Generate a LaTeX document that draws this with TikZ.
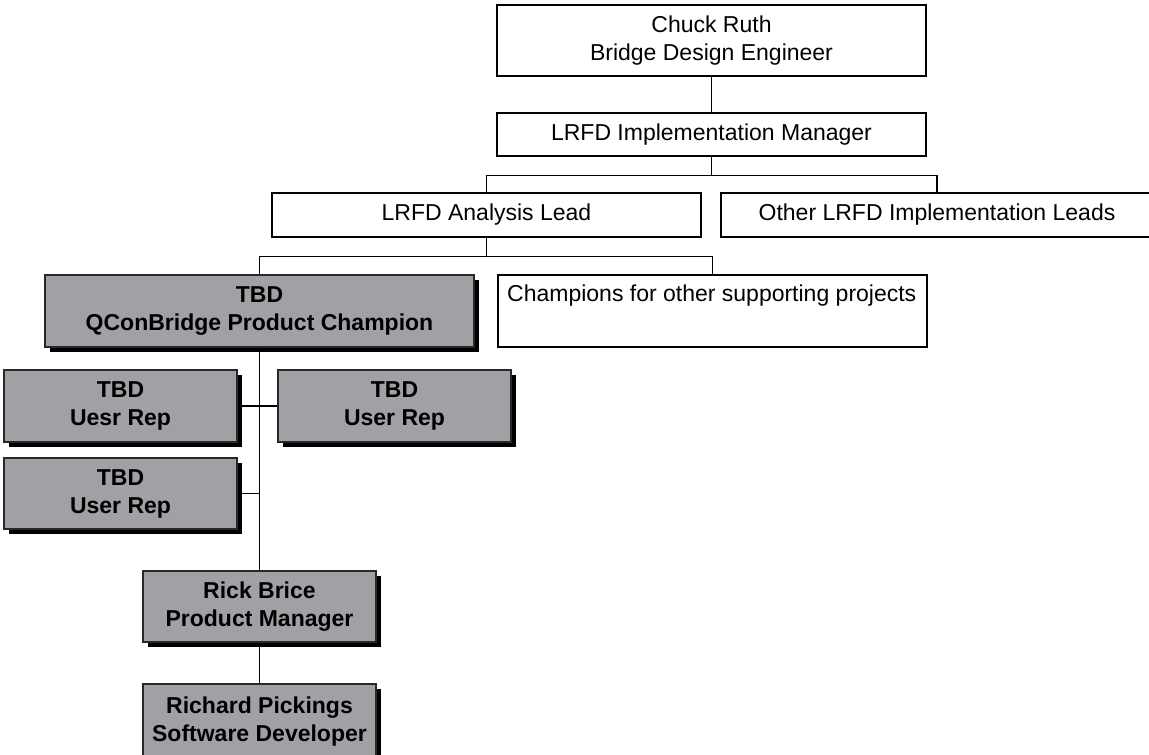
\documentclass[tikz,border=0pt]{standalone}
\usepackage{fontspec}
\setmainfont{Liberation Sans}
\usetikzlibrary{shadows}
\definecolor{boxgray}{RGB}{161,161,165}
\definecolor{boxedge}{RGB}{40,40,40}
\tikzset{
  plainbox/.style={draw=black,line width=1.3pt,fill=white,inner sep=0pt,align=center,
    font=\fontsize{23}{28}\selectfont},
  champbox/.style={draw=boxedge,line width=1.5pt,fill=boxgray,inner sep=0pt,align=center,
    text=black,font=\fontsize{23}{28}\selectfont\bfseries,
    drop shadow={shadow xshift=4.5pt,shadow yshift=-4.5pt,fill=black,opacity=1}},
  link/.style={line width=1.5pt}
}
\begin{document}
\begin{tikzpicture}[line cap=butt,line join=miter,x=1pt,y=-1pt]
				\clip (0,0) rectangle (1149,755);
				\fill[white] (0,0) rectangle (1149,755);
				% upper levels
				\node[plainbox,minimum width=429pt,minimum height=71pt] (chuck) at (711.5,40.5) {Chuck Ruth\\Bridge Design Engineer};
				\node[plainbox,minimum width=429pt,minimum height=43pt] (mgr) at (711.5,134.5) {LRFD Implementation Manager};
				\node[plainbox,minimum width=429pt,minimum height=44pt] (analysis) at (486.5,215) {LRFD Analysis Lead};
				\node[plainbox,minimum width=432pt,minimum height=44pt] (others) at (937,215) {Other LRFD Implementation Leads};
				% product level
				\node[champbox,minimum width=429pt,minimum height=72pt] (qcb) at (259.5,311) {TBD\\QConBridge Product Champion};
				\node[plainbox,minimum width=429pt,minimum height=72pt] (champ) at (712.5,311) {};
				\node[anchor=west,inner sep=0pt,font=\fontsize{23}{28}\selectfont] (champtext) at (507,296) {Champions for other supporting projects};
				% user reps
				\node[champbox,minimum width=233pt,minimum height=72pt] (repA) at (120.5,406) {TBD\\Uesr Rep};
				\node[champbox,minimum width=233pt,minimum height=72pt] (repB) at (394.5,406) {TBD\\User Rep};
				\node[champbox,minimum width=233pt,minimum height=71pt] (repC) at (120.5,493.5) {TBD\\User Rep};
				% development
				\node[champbox,minimum width=233pt,minimum height=71pt] (rick) at (259.5,606.5) {Rick Brice\\Product Manager};
				\node[champbox,minimum width=233pt,minimum height=75pt] (rich) at (259.5,721.5) {Richard Pickings\\Software Developer};
				% connectors
				\draw[link] (chuck.south) -- (mgr.north);
				\draw[link] (mgr.south) -- ++(0,19) coordinate (topbus);
				\draw[link] (analysis.north) |- (topbus) -| (others.north);
				\draw[link] (analysis.south) -- ++(0,19) coordinate (midbus);
				\draw[link] (qcb.north) |- (midbus) -| (champ.north);
				\draw[link] (qcb.south) -- (rick.north);
				\draw[link] (repA.east) -- (repB.west);
				\draw[link] (repC.east) -- (repC.east -| qcb.south);
				\draw[link] (rick.south) -- (rich.north);
\end{tikzpicture}
\end{document}
